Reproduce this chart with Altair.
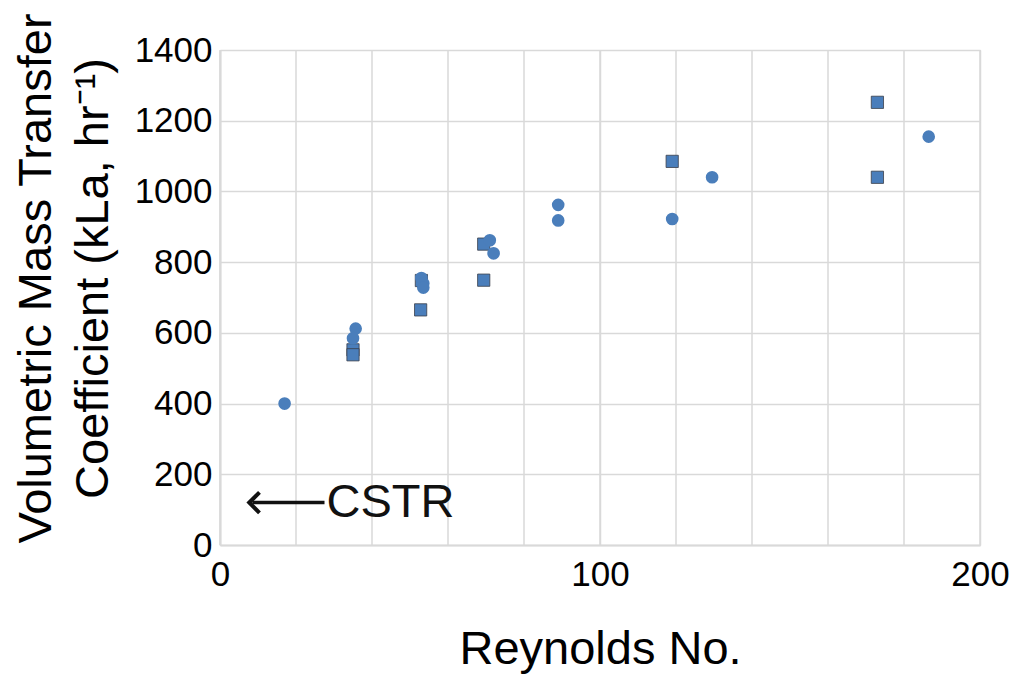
import altair as alt
import pandas as pd

# Series
circle_re = [17, 35.7, 35, 53, 53.5, 53.5, 71, 72, 89, 89, 119, 129.5, 186.5]
circle_kla = [400, 612, 585, 755, 740, 728, 862, 825, 962, 918, 922, 1040, 1155]
square_re = [35, 35, 52.8, 53, 69.4, 69.4, 119, 173, 173]
square_kla = [552, 538, 665, 748, 851, 749, 1085, 1252, 1040]

x_ticks = [0, 100, 200]
y_ticks = [0, 200, 400, 600, 800, 1000, 1200, 1400]
x_grid = list(range(0, 201, 20))

# annotation
arrow_x = [8.5, 27.5]
arrow_y = 120
label_text = "CSTR"

FONT = "Liberation Sans"
BLUE = "#4A7EBB"

circles = pd.DataFrame({"re": circle_re, "kla": circle_kla})
squares = pd.DataFrame({"re": square_re, "kla": square_kla})

xs = alt.Scale(domain=[0, 200], nice=False, zero=False)
ys = alt.Scale(domain=[0, 1400], nice=False)

x_axis = alt.Axis(
    values=x_ticks, gridColor="#d9d9d9", gridWidth=1.5, domainColor="#d9d9d9",
    domainWidth=2, ticks=False, labelFontSize=35, labelFont=FONT, labelColor="#000",
    labelPadding=12, title="Reynolds No.", titleFont=FONT, titleFontSize=47,
    titleFontWeight="normal", titleColor="#000", titlePadding=34,
    labelFlush=False, format="d",
)
y_axis = alt.Axis(
    values=y_ticks, gridColor="#d9d9d9", gridWidth=1.5, domainColor="#d9d9d9",
    domainWidth=2, ticks=False, labelFontSize=35, labelFont=FONT, labelColor="#000",
    labelPadding=8, format="d",
    title=["Volumetric Mass Transfer", "Coefficient (kLa, hr⁻¹)"],
    titleFont=FONT, titleFontSize=47, titleFontWeight="normal", titleColor="#000",
    titleAngle=-90, titleAlign="center", titleBaseline="bottom",
    titleX=-160, titleY=228, titleLineHeight=57,
)

grid_df = pd.DataFrame({"g": x_grid})
vgrid = alt.Chart(grid_df).mark_rule(color="#d9d9d9", strokeWidth=1.5).encode(
    x=alt.X("g:Q", scale=xs)
)

base_c = alt.Chart(circles).mark_circle(size=160, color=BLUE, opacity=1).encode(
    x=alt.X("re:Q", scale=xs, axis=x_axis),
    y=alt.Y("kla:Q", scale=ys, axis=y_axis),
)
base_s = alt.Chart(squares).mark_square(size=150, color=BLUE, opacity=1,
                                        stroke="#3a3f4a", strokeWidth=0.8).encode(
    x=alt.X("re:Q", scale=xs),
    y=alt.Y("kla:Q", scale=ys),
)

arrow_df = pd.DataFrame({"x1": [arrow_x[0]], "x2": [arrow_x[1]], "y": [arrow_y]})
arrow_line = alt.Chart(arrow_df).mark_rule(color="#111", strokeWidth=3.5).encode(
    x=alt.X("x1:Q", scale=xs), x2="x2:Q", y=alt.Y("y:Q", scale=ys)
)
arrow_head = alt.Chart(arrow_df).mark_point(
    shape="M0.7,-1 L-0.3,0 L0.7,1", size=420, filled=False, color="#111",
    strokeWidth=4, opacity=1,
).encode(x=alt.X("x1:Q", scale=xs), y=alt.Y("y:Q", scale=ys))

text_df = pd.DataFrame({"x": [arrow_x[1]], "y": [arrow_y], "t": [label_text]})
cstr = alt.Chart(text_df).mark_text(
    align="left", baseline="middle", font=FONT, fontSize=47, color="#111", dx=2
).encode(x=alt.X("x:Q", scale=xs), y=alt.Y("y:Q", scale=ys), text="t:N")

chart = alt.layer(vgrid, base_s, base_c, arrow_line, arrow_head, cstr).properties(
    width=760, height=495,
    autosize=alt.AutoSizeParams(type="none"),
    padding={"left": 220, "top": 50, "right": 33, "bottom": 130},
).configure_view(stroke=None).configure(background="white")

chart.save("out.html", embed_options={"renderer": "svg", "actions": False})
